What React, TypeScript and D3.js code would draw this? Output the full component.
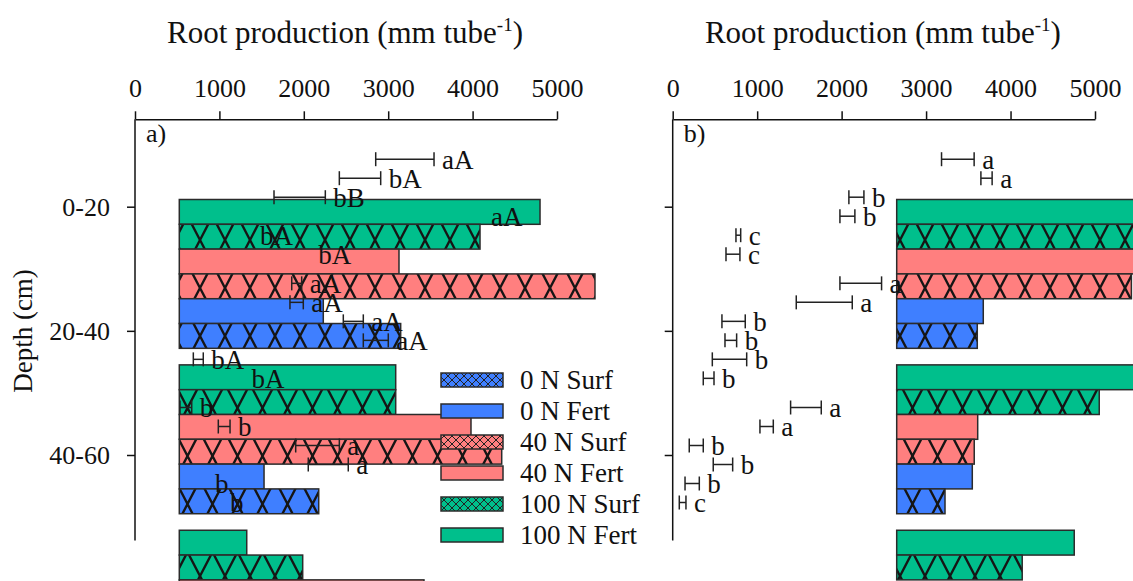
import * as d3 from "d3";
import { useEffect, useRef } from "react";

// depth classes and treatments (bar order from top to bottom in each group)
const depths = ["0-20", "20-40", "40-60"];
const treatments = ["100 N Fert", "100 N Surf", "40 N Fert", "40 N Surf", "0 N Fert", "0 N Surf"];
const legendItems = ["0 N Surf", "0 N Fert", "40 N Surf", "40 N Fert", "100 N Surf", "100 N Fert"];
const xTicks = [0, 1000, 2000, 3000, 4000, 5000];

// bar lengths (mm tube-1), one row per depth, null = not visible
const barsA = [
  [4274, 3563, 2603, 4925, 1706, 2623],
  [2564, 2564, 3456, 3820, 1004, 1652],
  [799, 1462, 2899, null, null, null],
];
const barsB = [
  [3000, 3000, 3000, 2779, 1025, 954],
  [3000, 2398, 959, 918, 895, 572],
  [2102, 1486, null, null, null, null],
];

// error bars [low, high] and letters per depth
const errA = [
  [[2852, 3543], [2421, 2911], [1647, 2255], [4123, 4123], [1386, 1386], [2077, 2077]],
  [[1857, 1975], [1836, 1994], [2468, 2705], [2705, 3001], [691, 809], [1287, 1287]],
  [[533, 672], [987, 1126], [1904, 2421], [2053, 2527], [853, 853], [1031, 1031]],
];
const lettersA = [
  ["aA", "bA", "bB", "aA", "bA", "bA"],
  ["aA", "aA", "aA", "aA", "bA", "bA"],
  ["b", "b", "a", "a", "b", "b"],
];
const errB = [
  [[3183, 3569], [3649, 3782], [2086, 2264], [1980, 2157], [749, 805], [631, 796]],
  [[1980, 2473], [1463, 2126], [583, 859], [619, 757], [469, 876], [362, 489]],
  [[1396, 1759], [1033, 1191], [196, 362], [480, 710], [146, 315], [78, 157]],
];
const lettersB = [
  ["a", "a", "b", "b", "c", "c"],
  ["a", "a", "b", "b", "b", "b"],
  ["a", "a", "b", "b", "b", "c"],
];

const FONT = "'Liberation Serif', 'Times New Roman', serif";

const colorOf = (t: string) =>
  t.startsWith("100") ? "#00bf8c" : t.startsWith("40") ? "#ff7f7f" : "#3f7fff";
const keyOf = (t: string) => (t.startsWith("100") ? "g" : t.startsWith("40") ? "r" : "b");
const isSurf = (t: string) => t.endsWith("Surf");

const App = () => {
  const svgRef = useRef<SVGSVGElement>(null);

  useEffect(() => {
    const svg = d3.select(svgRef.current);
    svg.selectAll("*").remove();

    //паттерны штриховки
    const defs = svg.append("defs");
    ["100 N Fert", "40 N Fert", "0 N Fert"].forEach((t) => {
      const big = defs.append("pattern")
        .attr("id", "hatch-" + keyOf(t))
        .attr("patternUnits", "userSpaceOnUse")
        .attr("width", 25).attr("height", 48);
      big.append("rect").attr("width", 25).attr("height", 48).attr("fill", colorOf(t));
      big.append("path").attr("d", "M0,0L25,48M25,0L0,48")
        .attr("stroke", "#151515").attr("stroke-width", 2.4);
      const small = defs.append("pattern")
        .attr("id", "leg-" + keyOf(t))
        .attr("patternUnits", "userSpaceOnUse")
        .attr("width", 8).attr("height", 8);
      small.append("rect").attr("width", 8).attr("height", 8).attr("fill", colorOf(t));
      small.append("path").attr("d", "M0,0L8,8M8,0L0,8")
        .attr("stroke", "#222").attr("stroke-width", 1);
    });

    const panels = [
      { tag: "a)", x0: 135, x1: 557, shift: 44.3, bars: barsA, errs: errA, letters: lettersA, yLabels: true },
      { tag: "b)", x0: 672.7, x1: 1095, shift: 224, bars: barsB, errs: errB, letters: lettersB, yLabels: false },
    ];

    const yAxisTop = 119.3;
    const yAxisBottom = 540.5;

    //шкала глубины (для осей и подписей)
    const yDepth = d3.scalePoint<string>().domain(depths).range([206.7, 455]);
    const yRow = d3.scalePoint<string>().domain(treatments).range([-47.5, 47.5]);

    //шкала глубины для столбцов
    const yBarGroup = d3.scaleBand<string>().domain(depths).range([199.5, 679.1]).paddingInner(0.1);
    const yBar = d3.scaleBand<string>().domain(treatments).range([0, yBarGroup.bandwidth()]);

    panels.forEach((p) => {
      const x = d3.scaleLinear().domain([0, 5000]).range([p.x0, p.x1]);
      const xBar = d3.scaleLinear().domain([0, 5000]).range([p.x0 + p.shift, p.x1 + p.shift]);
      const g = svg.append("g");

      //столбцы
      depths.forEach((dep, di) => {
        treatments.forEach((t, ti) => {
          const v = p.bars[di][ti];
          if (v == null) return;
          g.append("rect")
            .attr("x", xBar(0))
            .attr("y", yBarGroup(dep)! + yBar(t)!)
            .attr("width", xBar(v) - xBar(0))
            .attr("height", yBar.bandwidth())
            .attr("fill", isSurf(t) ? `url(#hatch-${keyOf(t)})` : colorOf(t))
            .attr("stroke", "#2b2b2b")
            .attr("stroke-width", 1.5);
        });
      });

      //ось x сверху
      const ax = g.append("g")
        .attr("transform", `translate(0,${yAxisTop})`)
        .call(d3.axisTop(x).tickValues(xTicks).tickSize(8).tickSizeOuter(0).tickPadding(14).tickFormat(d3.format("d")));
      ax.select(".domain").attr("stroke", "#111").attr("stroke-width", 1.5);
      ax.selectAll(".tick line").attr("stroke", "#111").attr("stroke-width", 1.5);
      ax.selectAll("text")
        .style("font-size", "26px")
        .style("font-family", FONT)
        .style("fill", "#111");

      //ось y
      const ay = g.append("g")
        .attr("transform", `translate(${p.x0},0)`)
        .call(d3.axisLeft(yDepth).tickSize(8).tickPadding(17).tickSizeOuter(0));
      ay.select(".domain").remove();
      ay.selectAll(".tick line").attr("stroke", "#111").attr("stroke-width", 1.5);
      ay.selectAll("text")
        .style("font-size", "26px")
        .style("font-family", FONT)
        .style("fill", "#111")
        .style("display", p.yLabels ? null : "none");
      g.append("line")
        .attr("x1", p.x0).attr("x2", p.x0)
        .attr("y1", yAxisTop).attr("y2", yAxisBottom)
        .attr("stroke", "#111").attr("stroke-width", 1.5);

      //заголовок
      const title = g.append("text")
        .attr("x", (p.x0 + p.x1) / 2 - 1)
        .attr("y", 43)
        .attr("text-anchor", "middle")
        .style("font-family", FONT)
        .style("font-size", "31px")
        .style("fill", "#111");
      title.append("tspan").text("Root production (mm tube");
      title.append("tspan").attr("dy", -12).style("font-size", "19px").text("-1");
      title.append("tspan").attr("dy", 12).text(")");

      //метка панели
      g.append("text")
        .attr("x", p.x0 + 11)
        .attr("y", 142)
        .style("font-family", FONT)
        .style("font-size", "26px")
        .style("fill", "#111")
        .text(p.tag);

      //планки погрешностей и буквы
      depths.forEach((dep, di) => {
        treatments.forEach((t, ti) => {
          const [lo, hi] = p.errs[di][ti];
          const cy = yDepth(dep)! + yRow(t)!;
          if (hi > lo) {
            g.append("line")
              .attr("x1", x(lo)).attr("x2", x(hi))
              .attr("y1", cy).attr("y2", cy)
              .attr("stroke", "#222").attr("stroke-width", 1.5);
            [lo, hi].forEach((v) => {
              g.append("line")
                .attr("x1", x(v)).attr("x2", x(v))
                .attr("y1", cy - 7).attr("y2", cy + 7)
                .attr("stroke", "#222").attr("stroke-width", 1.5);
            });
          }
          g.append("text")
            .attr("x", x(hi) + 8)
            .attr("y", cy)
            .attr("dy", "0.35em")
            .style("font-family", FONT)
            .style("font-size", "27px")
            .style("fill", "#111")
            .text(p.letters[di][ti]);
        });
      });
    });

    //подпись оси y
    svg.append("text")
      .attr("transform", `translate(32,${331}) rotate(-90)`)
      .attr("text-anchor", "middle")
      .style("font-family", FONT)
      .style("font-size", "27px")
      .style("fill", "#111")
      .text("Depth (cm)");

    //легенда
    const legY = d3.scalePoint<string>().domain(legendItems).range([380, 535]);
    const leg = svg.append("g");
    legendItems.forEach((t) => {
      const cy = legY(t)!;
      leg.append("rect")
        .attr("x", 441).attr("y", cy - 7)
        .attr("width", 62).attr("height", 14)
        .attr("fill", isSurf(t) ? `url(#leg-${keyOf(t)})` : colorOf(t))
        .attr("stroke", "#2b2b2b").attr("stroke-width", 1.5);
      leg.append("text")
        .attr("x", 520).attr("y", cy)
        .attr("dy", "0.33em")
        .style("font-family", FONT)
        .style("font-size", "27px")
        .style("fill", "#111")
        .text(t);
    });
  }, []);

  return (
    <div style={{ position: "absolute", left: 0, top: 0, background: "#fff" }}>
      <svg ref={svgRef} width={1133} height={581} style={{ display: "block" }} />
    </div>
  );
};

export default App;
